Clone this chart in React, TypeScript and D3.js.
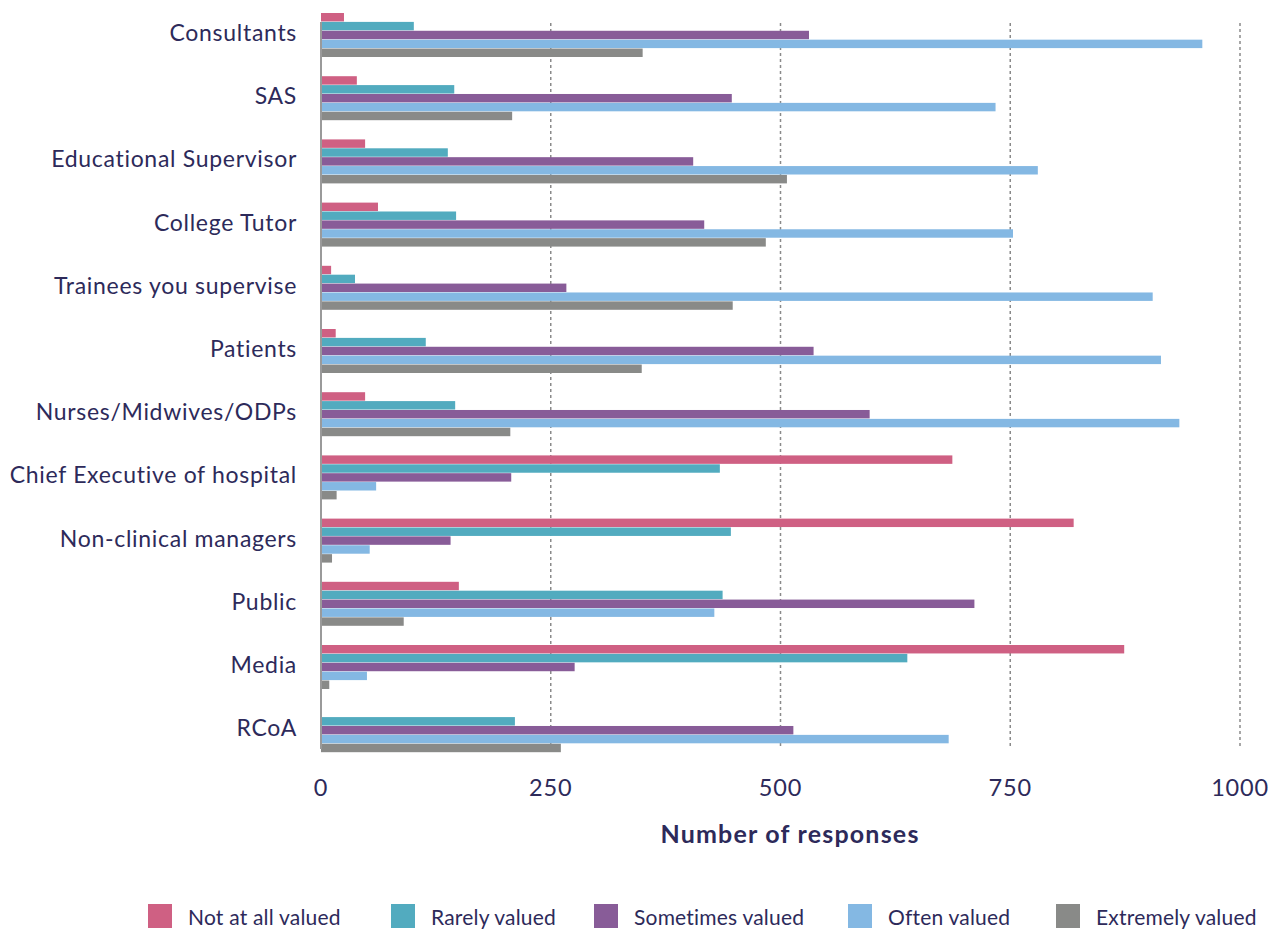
import React from "react";
import * as d3 from "d3";

const categories = [
  "Consultants",
  "SAS",
  "Educational Supervisor",
  "College Tutor",
  "Trainees you supervise",
  "Patients",
  "Nurses/Midwives/ODPs",
  "Chief Executive of hospital",
  "Non-clinical managers",
  "Public",
  "Media",
  "RCoA",
];

const seriesNames = [
  "Not at all valued",
  "Rarely valued",
  "Sometimes valued",
  "Often valued",
  "Extremely valued",
];

const notAtAll = [25, 39, 48, 62, 11, 16, 48, 687, 819, 150, 874, 0];
const rarely = [101, 145, 138, 147, 37, 114, 146, 434, 446, 437, 638, 211];
const sometimes = [531, 447, 405, 417, 267, 536, 597, 207, 141, 711, 276, 514];
const often = [959, 734, 780, 753, 905, 914, 934, 60, 53, 428, 50, 683];
const extremely = [350, 208, 507, 484, 448, 349, 206, 17, 12, 90, 9, 261];

const seriesValues = [notAtAll, rarely, sometimes, often, extremely];
const colors = ["#cf6083", "#52abbf", "#885c98", "#84b8e3", "#898a88"];
const xTicks = [0, 250, 500, 750, 1000];

const textColor = "#2d2a5a";
const font = "Lato, 'Open Sans', sans-serif";

export default function App() {
  const width = 1280;
  const height = 929;
  const x = d3.scaleLinear().domain([0, 1000]).range([321, 1240]);
  const y = d3
    .scaleBand<string>()
    .domain(categories)
    .range([3.4, 761.8])
    .paddingInner(0.304)
    .paddingOuter(0.152);
  const inner = d3
    .scaleBand<string>()
    .domain(seriesNames)
    .range([0, y.bandwidth()])
    .paddingInner(0.05);

  const legendX = [148, 391, 594, 848, 1056];

  return (
    <svg
      width={width}
      height={height}
      style={{ position: "absolute", left: 0, top: 0, background: "#fff" }}
      fontFamily={font}
    >
      {xTicks
        .filter((t) => t > 0)
        .map((t) => (
          <line
            key={t}
            x1={x(t)}
            x2={x(t)}
            y1={23}
            y2={746}
            stroke="#8a8a8a"
            strokeWidth={1.5}
            strokeDasharray="3,3"
          />
        ))}
      {categories.map((c, i) => (
        <g key={c} transform={`translate(0,${y(c)})`}>
          {seriesValues.map((vals, s) => (
            <rect
              key={s}
              x={x(0)}
              y={inner(seriesNames[s])}
              width={x(vals[i]) - x(0)}
              height={inner.bandwidth()}
              fill={colors[s]}
            />
          ))}
          <text
            x={297}
            y={y.bandwidth() / 2 - 3}
            textAnchor="end"
            dominantBaseline="central"
            fontSize={23}
            letterSpacing={0.7}
            fill={textColor}
          >
            {c}
          </text>
        </g>
      ))}
      <line x1={x(0)} x2={x(0)} y1={22} y2={749} stroke="#9a9a9a" strokeWidth={2} />
      {xTicks.map((t) => (
        <text
          key={t}
          x={x(t)}
          y={796}
          textAnchor="middle"
          fontSize={23.5}
          letterSpacing={0.8}
          fill={textColor}
        >
          {t}
        </text>
      ))}
      <text
        x={790}
        y={843}
        textAnchor="middle"
        fontSize={25}
        fontWeight="bold"
        letterSpacing={1.2}
        fill={textColor}
      >
        Number of responses
      </text>
      {seriesNames.map((n, s) => (
        <g key={n}>
          <rect x={legendX[s]} y={904} width={24} height={24} fill={colors[s]} />
          <text
            x={legendX[s] + 40}
            y={916}
            dominantBaseline="central"
            fontSize={21}
            letterSpacing={0.2}
            fill={textColor}
          >
            {n}
          </text>
        </g>
      ))}
    </svg>
  );
}
